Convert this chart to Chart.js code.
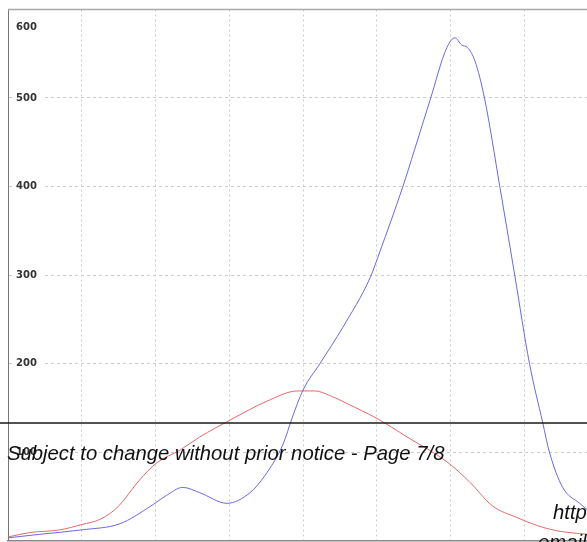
<!DOCTYPE html>
<html>
<head>
<meta charset="utf-8">
<script src="https://cdn.jsdelivr.net/npm/chart.js@4/dist/chart.umd.min.js"></script>
<style>
html,body{margin:0;padding:0;background:#fff;}
#wrap{width:587px;height:542px;position:relative;}
</style>
</head>
<body>
<div id="wrap"><canvas id="c" width="587" height="542"></canvas></div>
<script>
// ---- data ----
const blueX = [0, 4.3, 10, 15.2, 19.2, 21.5, 23.7, 26, 29.7, 32.8, 34.8, 37.3, 38.5, 40.0, 42.3, 45.4, 49.1, 50.4, 53.5, 55.1, 57.2, 59.5, 60.6, 61.5, 62.3, 63.3, 64.6, 66.7, 68.7, 70.7, 72.5, 73.4, 75.2, 77.5, 78.5];
const blueY = [3, 7, 12, 19, 38, 51, 60, 54, 42, 54, 73, 109, 138, 170, 200, 241, 297, 326, 399, 441, 497, 557, 568, 560, 557, 542, 500, 399, 300, 200, 133, 100, 60, 42, 35];
const redX = [0, 3, 7, 10, 12.5, 14.9, 17.8, 20.2, 23.3, 26, 30.1, 35, 39.3, 41.6, 43.6, 45.9, 50, 54.1, 59.5, 62.6, 65.7, 69, 71.7, 74.4, 78.5];
const redY = [4, 9, 12, 18, 24, 38, 68, 88, 102, 117, 136, 157, 169, 169, 164, 155, 138, 117, 89, 66, 39, 26, 17, 11, 7];
const yTicks = [0, 100, 200, 300, 400, 500, 600];
const footerText = "Subject to change without prior notice - Page 7/8";
const footerUrl = "http";
const footerMail = "email";

const toPts = (xs, ys) => xs.map((x, i) => ({x: x, y: ys[i]}));

const overlay = {
  id: 'overlay',
  afterDraw(chart) {
    const ctx = chart.ctx, a = chart.chartArea;
    ctx.save();
    ctx.strokeStyle = '#a8a8a8';
    ctx.lineWidth = 1.5;
    ctx.beginPath(); ctx.moveTo(a.left, a.top); ctx.lineTo(chart.width, a.top); ctx.stroke();
    ctx.strokeStyle = '#1a1a1a';
    ctx.lineWidth = 1.5;
    ctx.beginPath(); ctx.moveTo(0, 423); ctx.lineTo(chart.width, 423); ctx.stroke();
    ctx.fillStyle = '#111';
    ctx.font = 'italic 20.3px "Liberation Sans", Arial, sans-serif';
    ctx.textBaseline = 'alphabetic';
    ctx.textAlign = 'left';
    ctx.fillText(footerText, 7, 460);
    ctx.fillText(footerUrl, 553, 519);
    ctx.fillText(footerMail, 538, 549);
    ctx.restore();
  }
};

new Chart(document.getElementById('c'), {
  type: 'line',
  data: {
    datasets: [
      {data: toPts(blueX, blueY), borderColor: 'rgb(105,105,228)', borderWidth: 1, pointRadius: 0, cubicInterpolationMode: 'monotone', fill: false},
      {data: toPts(redX, redY), borderColor: 'rgb(232,105,105)', borderWidth: 1, pointRadius: 0, cubicInterpolationMode: 'monotone', fill: false}
    ]
  },
  options: {
    responsive: false,
    animation: false,
    events: [],
    layout: {padding: {left: 8, top: 9.5, right: 0, bottom: 1.5}},
    plugins: {legend: {display: false}, tooltip: {enabled: false}},
    scales: {
      x: {
        type: 'linear', min: 0, max: 78.5,
        ticks: {display: false, stepSize: 10},
        grid: {color: '#cccccc', lineWidth: 1, drawTicks: false},
        border: {display: true, color: '#888', width: 1.5, dash: [2, 3]}
      },
      y: {
        type: 'linear', min: 0, max: 600,
        afterBuildTicks(scale) { scale.ticks = yTicks.map(v => ({value: v})); },
        afterFit(scale) { scale.paddingTop = 0; scale.paddingBottom = 0; scale.width = 0; },
        ticks: {
          mirror: true,
          padding: 8,
          color: '#333',
          font: {family: '"DejaVu Sans", Verdana, sans-serif', size: 10, weight: 'bold'},
          callback: (v) => v === 0 ? '' : (v === 600 ? ['', '', '', String(v)] : String(v)),
          showLabelBackdrop: (ctx) => ctx.tick && ctx.tick.value !== 600 && ctx.tick.value !== 0,
          backdropColor: '#ffffff',
          backdropPadding: {left: 4, right: 7, top: 2, bottom: 2}
        },
        grid: {color: '#cccccc', lineWidth: 1, drawTicks: false},
        border: {display: true, color: '#777', width: 1, dash: [3, 3]}
      }
    }
  },
  plugins: [overlay]
});
</script>
</body>
</html>
